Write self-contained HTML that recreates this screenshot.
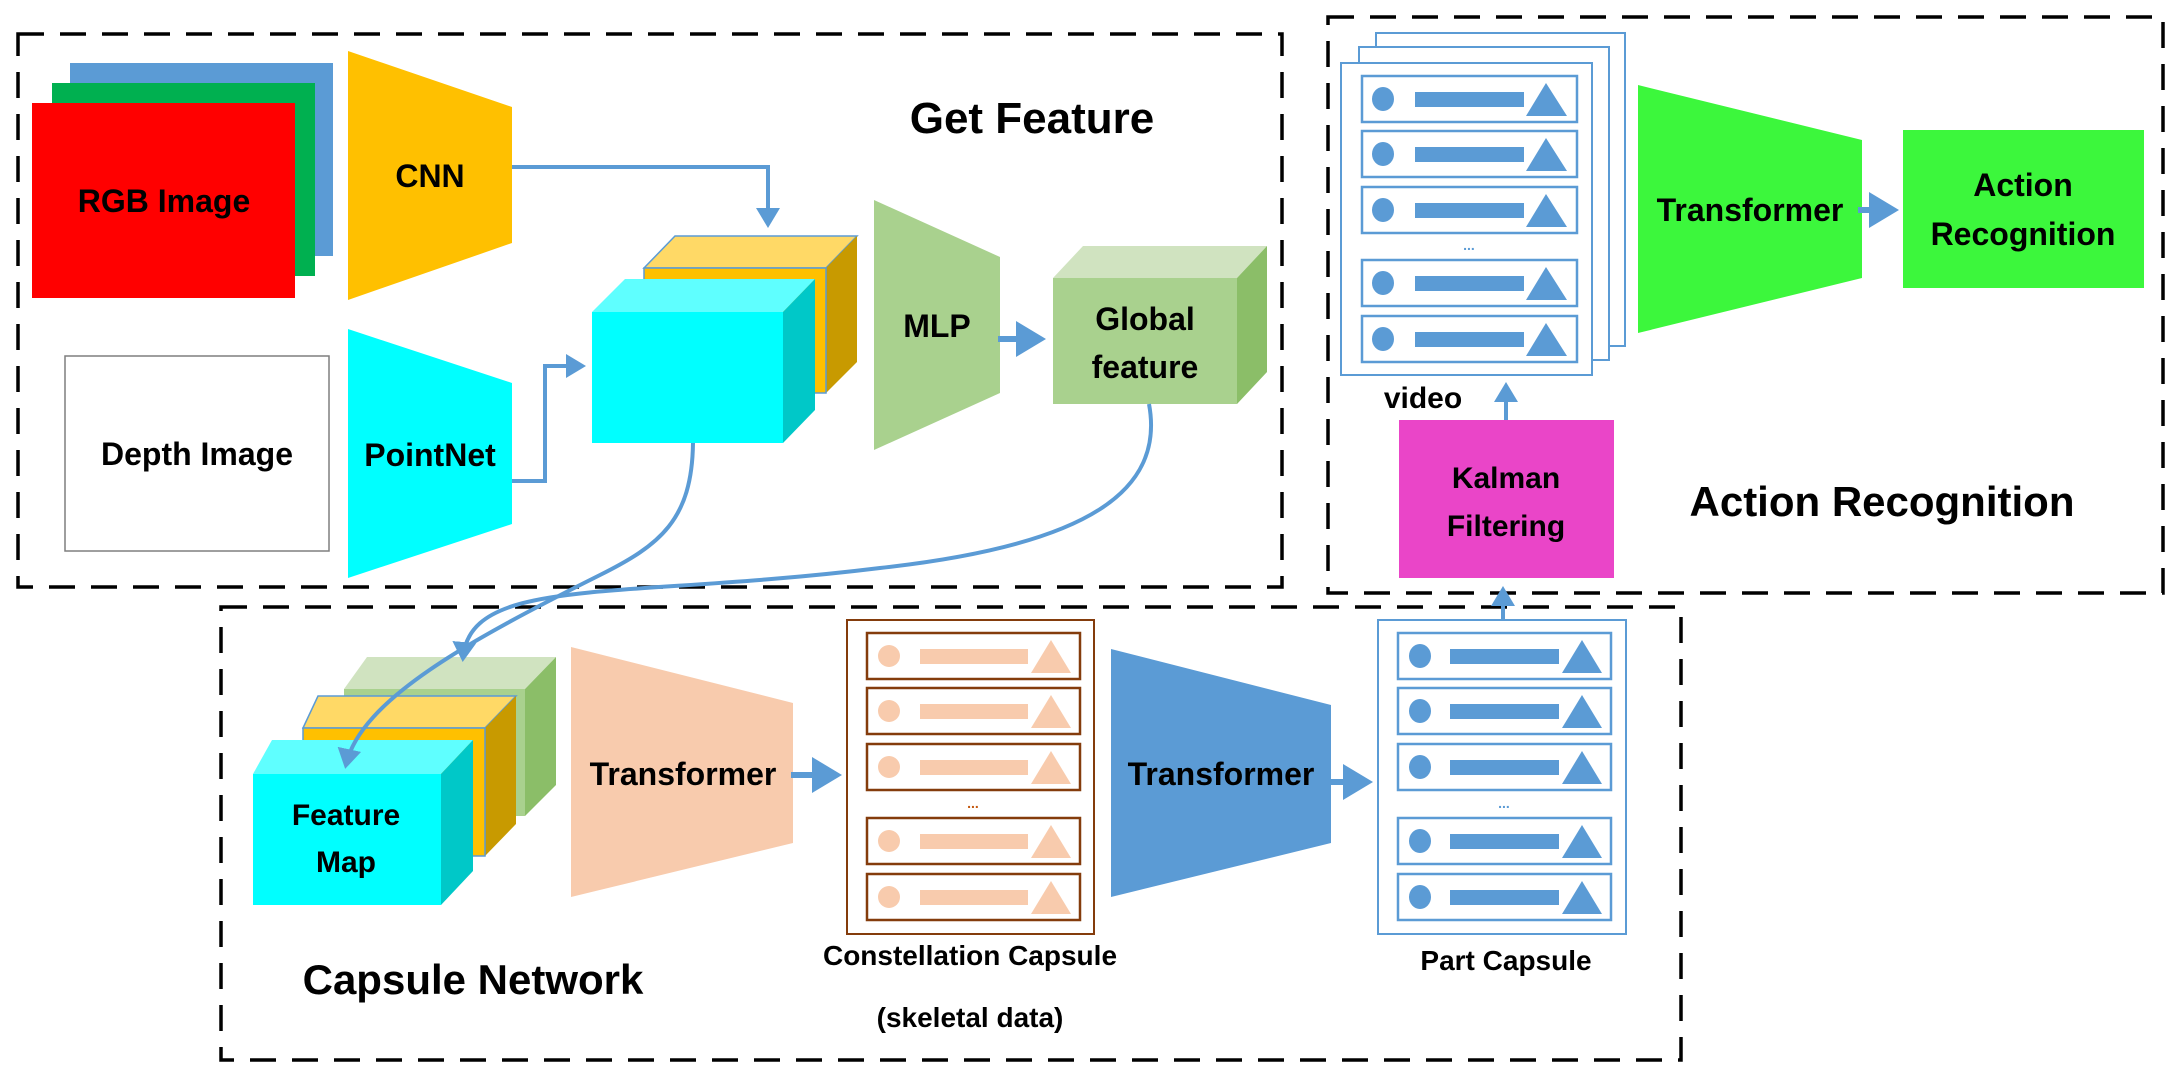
<!DOCTYPE html>
<html><head><meta charset="utf-8"><style>
html,body{margin:0;padding:0;background:#fff;}
svg{display:block;}
text{font-family:"Liberation Sans",sans-serif;font-weight:bold;fill:#000;}
</style></head><body>
<svg width="2175" height="1072" viewBox="0 0 2175 1072" xmlns="http://www.w3.org/2000/svg">
<defs>
<marker id="ah" markerWidth="6" markerHeight="6" refX="4" refY="3" orient="auto" markerUnits="strokeWidth">
<path d="M0,0 L5,3 L0,6 Z" fill="#5B9BD5"/></marker>
<g id="brow">
<rect x="0" y="0" width="215" height="46" fill="#fff" stroke="#5B9BD5" stroke-width="2.5"/>
<ellipse cx="21" cy="23" rx="11" ry="12" fill="#5B9BD5"/>
<rect x="53" y="16" width="109" height="15" fill="#5B9BD5"/>
<polygon points="164,40 184,7 205,40" fill="#5B9BD5"/>
</g>
<g id="prow">
<rect x="0" y="0" width="213" height="46" fill="#fff" stroke="#843C0C" stroke-width="2.5"/>
<ellipse cx="22" cy="23" rx="11" ry="11" fill="#F8CBAD"/>
<rect x="53" y="16" width="108" height="15" fill="#F8CBAD"/>
<polygon points="164,40 184,7 204,40" fill="#F8CBAD"/>
</g>
<g id="bprow">
<rect x="0" y="0" width="213" height="46" fill="#fff" stroke="#5B9BD5" stroke-width="2.5"/>
<ellipse cx="22" cy="23" rx="11" ry="12" fill="#5B9BD5"/>
<rect x="52" y="16" width="109" height="15" fill="#5B9BD5"/>
<polygon points="164,40 184,7 204,40" fill="#5B9BD5"/>
</g>
</defs>

<!-- dashed frames -->
<g fill="none" stroke="#000" stroke-width="3.5" stroke-dasharray="26 16">
<rect x="18" y="34" width="1264" height="553"/>
<rect x="1328" y="17" width="835" height="576"/>
<rect x="221" y="607" width="1460" height="453"/>
</g>

<!-- RGB stack -->
<rect x="70" y="63" width="263" height="193" fill="#5B9BD5"/>
<rect x="52" y="83" width="263" height="193" fill="#00B050"/>
<rect x="32" y="103" width="263" height="195" fill="#FF0000"/>
<text x="164" y="212" font-size="32" text-anchor="middle">RGB Image</text>

<!-- Depth -->
<rect x="65" y="356" width="264" height="195" fill="#fff" stroke="#7f7f7f" stroke-width="1.5"/>
<text x="197" y="465" font-size="32" text-anchor="middle">Depth Image</text>

<!-- CNN -->
<polygon points="348,51 512,107 512,243 348,300" fill="#FFC000"/>
<text x="430" y="187" font-size="32" text-anchor="middle">CNN</text>
<!-- PointNet -->
<polygon points="348,329 512,383 512,524 348,578" fill="#00FFFF"/>
<text x="430" y="466" font-size="32" text-anchor="middle">PointNet</text>

<!-- arrows -->
<polyline points="512,167 768,167 768,224" fill="none" stroke="#5B9BD5" stroke-width="4" marker-end="url(#ah)"/>
<polyline points="512,481 545,481 545,366 582,366" fill="none" stroke="#5B9BD5" stroke-width="4" marker-end="url(#ah)"/>

<!-- yellow cube -->
<polygon points="644,268 675,236 857,236 826,268" fill="#FFD966" stroke="#5B9BD5" stroke-width="1.5"/>
<polygon points="826,268 857,236 857,362 826,393" fill="#C89A00"/>
<rect x="644" y="268" width="182" height="125" fill="#FFC000" stroke="#5B9BD5" stroke-width="1.5"/>
<!-- cyan cube -->
<polygon points="592,312 625,279 815,279 783,312" fill="#5FFFFF"/>
<polygon points="783,312 815,279 815,410 783,443" fill="#00C8C8"/>
<rect x="592" y="312" width="191" height="131" fill="#00FFFF"/>

<!-- MLP -->
<polygon points="874,200 1000,257 1000,393 874,450" fill="#A9D18E"/>
<text x="937" y="337" font-size="32" text-anchor="middle">MLP</text>
<line x1="998" y1="339" x2="1040" y2="339" stroke="#5B9BD5" stroke-width="6" marker-end="url(#ah)"/>

<!-- Global cube -->
<polygon points="1053,278 1083,246 1267,246 1237,278" fill="#D0E3C0"/>
<polygon points="1237,278 1267,246 1267,372 1237,404" fill="#8BBE68"/>
<rect x="1053" y="278" width="184" height="126" fill="#A9D18E"/>
<text x="1145" y="330" font-size="32" text-anchor="middle">Global</text>
<text x="1145" y="378" font-size="32" text-anchor="middle">feature</text>

<text x="1032" y="133" font-size="44" text-anchor="middle">Get Feature</text>

<!-- Action recognition area -->
<rect x="1376" y="33" width="249" height="313" fill="#fff" stroke="#5B9BD5" stroke-width="2"/>
<rect x="1359" y="47" width="250" height="313" fill="#fff" stroke="#5B9BD5" stroke-width="2"/>
<rect x="1341" y="63" width="251" height="312" fill="#fff" stroke="#5B9BD5" stroke-width="2"/>
<use href="#brow" x="1362" y="76"/>
<use href="#brow" x="1362" y="131"/>
<use href="#brow" x="1362" y="187"/>
<text x="1469" y="250" font-size="14" fill="#5B9BD5" style="fill:#5B9BD5" text-anchor="middle">...</text>
<use href="#brow" x="1362" y="260"/>
<use href="#brow" x="1362" y="316"/>

<polygon points="1638,85 1862,140 1862,278 1638,333" fill="#3CF73C"/>
<text x="1750" y="221" font-size="32" text-anchor="middle">Transformer</text>
<line x1="1858" y1="210" x2="1893" y2="210" stroke="#5B9BD5" stroke-width="6" marker-end="url(#ah)"/>
<rect x="1903" y="130" width="241" height="158" fill="#3CF73C"/>
<text x="2023" y="196" font-size="32" text-anchor="middle">Action</text>
<text x="2023" y="245" font-size="32" text-anchor="middle">Recognition</text>

<text x="1423" y="408" font-size="30" text-anchor="middle">video</text>
<line x1="1506" y1="420" x2="1506" y2="386" stroke="#5B9BD5" stroke-width="4" marker-end="url(#ah)"/>
<rect x="1399" y="420" width="215" height="158" fill="#EA45C8"/>
<text x="1506" y="488" font-size="30" text-anchor="middle">Kalman</text>
<text x="1506" y="536" font-size="30" text-anchor="middle">Filtering</text>
<text x="1882" y="516" font-size="42" text-anchor="middle">Action Recognition</text>

<!-- Capsule network -->
<polygon points="344,689 367,657 556,657 525,689" fill="#D0E3C0"/>
<polygon points="525,689 556,657 556,785 525,816" fill="#8BBE68"/>
<rect x="344" y="689" width="181" height="127" fill="#A9D18E"/>

<polygon points="303,728 318,696 516,696 485,728" fill="#FFD966" stroke="#5B9BD5" stroke-width="1.5"/>
<polygon points="485,728 516,696 516,824 485,856" fill="#C89A00"/>
<rect x="303" y="728" width="182" height="128" fill="#FFC000" stroke="#5B9BD5" stroke-width="1.5"/>

<polygon points="253,774 272,740 473,740 441,774" fill="#5FFFFF"/>
<polygon points="441,774 473,740 473,871 441,905" fill="#00C8C8"/>
<rect x="253" y="774" width="188" height="131" fill="#00FFFF"/>
<text x="346" y="825" font-size="30" text-anchor="middle">Feature</text>
<text x="346" y="872" font-size="30" text-anchor="middle">Map</text>

<!-- curves -->
<path d="M693,443 C692,520 660,545 600,575 C470,640 360,700 346,765" fill="none" stroke="#5B9BD5" stroke-width="4" marker-end="url(#ah)"/>
<path d="M1149,404 C1165,490 1090,545 880,568 C620,600 470,575 463,658" fill="none" stroke="#5B9BD5" stroke-width="4" marker-end="url(#ah)"/>

<polygon points="571,647 793,703 793,843 571,897" fill="#F8CBAD"/>
<text x="683" y="785" font-size="32" text-anchor="middle">Transformer</text>
<line x1="791" y1="775" x2="836" y2="775" stroke="#5B9BD5" stroke-width="6" marker-end="url(#ah)"/>

<rect x="847" y="620" width="247" height="314" fill="#fff" stroke="#843C0C" stroke-width="2"/>
<use href="#prow" x="867" y="633"/>
<use href="#prow" x="867" y="688"/>
<use href="#prow" x="867" y="744"/>
<text x="973" y="808" font-size="14" style="fill:#C55A11" text-anchor="middle">...</text>
<use href="#prow" x="867" y="818"/>
<use href="#prow" x="867" y="874"/>

<polygon points="1111,649 1331,705 1331,843 1111,897" fill="#5B9BD5"/>
<text x="1221" y="785" font-size="32" text-anchor="middle">Transformer</text>
<line x1="1329" y1="782" x2="1367" y2="782" stroke="#5B9BD5" stroke-width="6" marker-end="url(#ah)"/>

<rect x="1378" y="620" width="248" height="314" fill="#fff" stroke="#5B9BD5" stroke-width="2"/>
<use href="#bprow" x="1398" y="633"/>
<use href="#bprow" x="1398" y="688"/>
<use href="#bprow" x="1398" y="744"/>
<text x="1504" y="808" font-size="14" style="fill:#5B9BD5" text-anchor="middle">...</text>
<use href="#bprow" x="1398" y="818"/>
<use href="#bprow" x="1398" y="874"/>

<line x1="1503" y1="620" x2="1503" y2="590" stroke="#5B9BD5" stroke-width="4" marker-end="url(#ah)"/>

<text x="970" y="965" font-size="28" text-anchor="middle">Constellation Capsule</text>
<text x="970" y="1027" font-size="28" text-anchor="middle">(skeletal data)</text>
<text x="1506" y="970" font-size="28" text-anchor="middle">Part Capsule</text>
<text x="473" y="994" font-size="42" text-anchor="middle">Capsule Network</text>
</svg>
</body></html>
